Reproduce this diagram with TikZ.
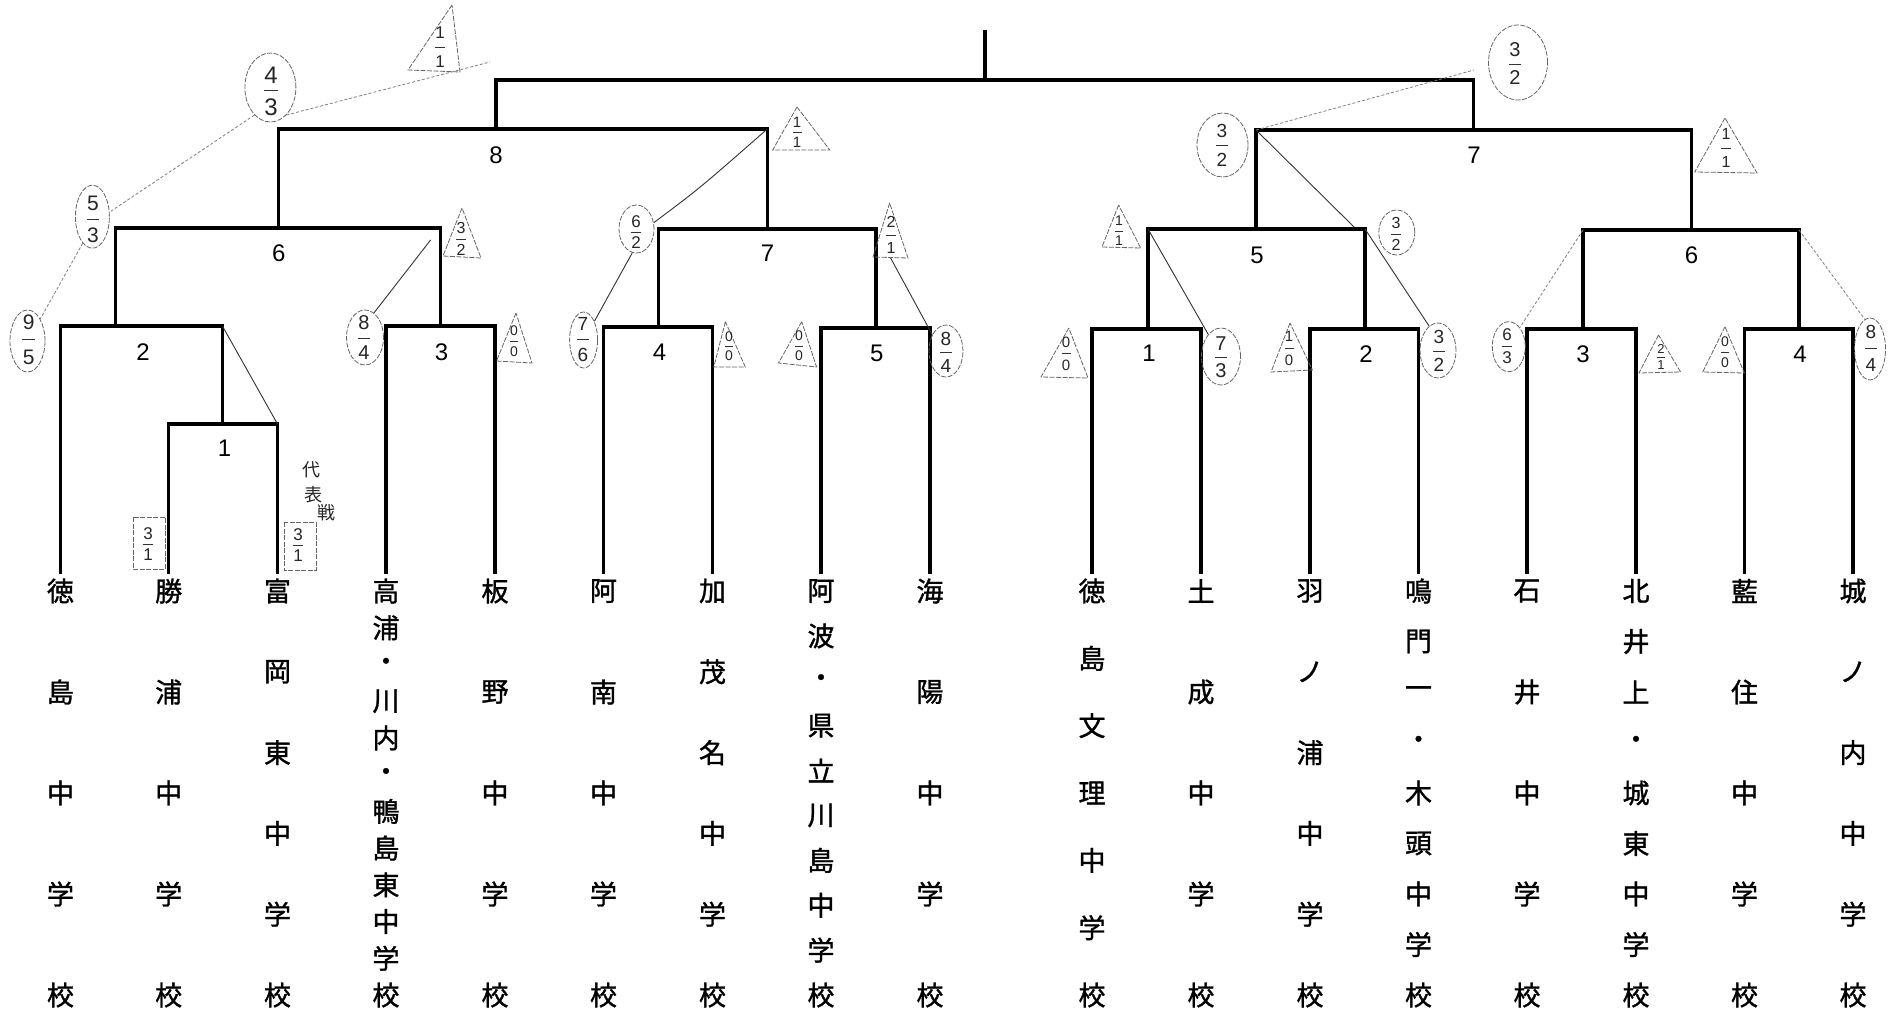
\documentclass[tikz,border=0pt]{standalone}
\usepackage{fontspec}
\setmainfont{Liberation Sans}
\newfontfamily\cjk[RawFeature={embolden=1.2}]{Noto Sans CJK JP}
\newfontfamily\cjkthin{Noto Sans CJK JP}
\usetikzlibrary{calc,shapes.geometric}
\tikzset{
 br/.style={line width=3.3pt, line cap=rect, line join=miter},
 lab/.style={font=\fontsize{24}{26}\selectfont, inner sep=0pt},
 cj/.style={font=\cjk\fontsize{27}{29}\selectfont, inner sep=0pt},
 hwcj/.style={font=\cjkthin\fontsize{18}{20}\selectfont, inner sep=0pt, text=black!85},
 hw/.style={inner sep=0pt, text=black!85},
 hwbar/.style={line width=0.8pt, black!80},
 pen/.style={line width=0.9pt, black!80},
 pencil/.style={line width=0.8pt, black!50, dash pattern=on 3pt off 2pt},
 outl/.style={line width=0.8pt, black!60, dash pattern=on 5pt off 1.5pt},
 oval/.style={ellipse, draw=black!60, line width=0.8pt, dash pattern=on 5pt off 1.5pt, inner sep=0pt},
}
\newcommand\hfr[7]{%
  \node[hw,font=\fontsize{#7}{#7}\selectfont] (#1t) at (#2,#3) {#5};
  \node[hw,font=\fontsize{#7}{#7}\selectfont] (#1b) at (#2,#4) {#6};
  \draw[hwbar] ($(#1t.south)!0.5!(#1b.north)+({-0.3*#7},0)$) -- ($(#1t.south)!0.5!(#1b.north)+({0.3*#7},0)$);
}
\newcommand\school[4]{%
  \foreach \ch [count=\i] in {#4} {\node[cj] (t#1-\i) at (#2,{591+(\i-1)*404/(#3-1)}) {\ch};}%
}
\begin{document}
\begin{tikzpicture}[x=1pt,y=-1pt]
\useasboundingbox (0,0) rectangle (1898,1014);
\fill[white] (0,0) rectangle (1898,1014);

% column feet
\foreach \n/\x in {1/60.5,2/168.7,3/277.5,4/386,5/495,6/603.5,7/712.5,8/821,9/930,
  10/1092,11/1201,12/1310,13/1418.5,14/1527,15/1636,16/1744.5,17/1853}
  {\coordinate (s\n) at (\x,572);}

% bracket corners
\coordinate (L1a) at (168.7,424); \coordinate (L1b) at (277.5,424); \coordinate (L1m) at (222.4,424);
\coordinate (L2a) at (60.5,326);  \coordinate (L2b) at (222.4,326); \coordinate (L2m) at (115.5,326);
\coordinate (L3a) at (386,326);   \coordinate (L3b) at (495,326);   \coordinate (L3m) at (440.8,326);
\coordinate (L4a) at (603.5,327); \coordinate (L4b) at (712.5,327); \coordinate (L4m) at (658.4,327);
\coordinate (L5a) at (821,328);   \coordinate (L5b) at (930,328);   \coordinate (L5m) at (876,328);
\coordinate (L6a) at (115.5,228); \coordinate (L6b) at (440.8,228); \coordinate (L6m) at (278.8,228);
\coordinate (L7a) at (658.4,229); \coordinate (L7b) at (876,229);   \coordinate (L7m) at (767.3,229);
\coordinate (L8a) at (278.8,129); \coordinate (L8b) at (767.3,129); \coordinate (L8m) at (496,129);
\coordinate (Ra) at (496,80); \coordinate (Rb) at (1473.5,80); \coordinate (Rm) at (985,80); \coordinate (Rt) at (985,32);
\coordinate (R7a) at (1256,130);  \coordinate (R7b) at (1691.5,130); \coordinate (R7m) at (1473.5,130);
\coordinate (R5a) at (1148,229);  \coordinate (R5b) at (1365,229);   \coordinate (R5m) at (1256,229);
\coordinate (R6a) at (1583,230);  \coordinate (R6b) at (1799,230);   \coordinate (R6m) at (1691.5,230);
\coordinate (R1a) at (1092,329);  \coordinate (R1b) at (1201,329);   \coordinate (R1m) at (1148,329);
\coordinate (R2a) at (1310,329);  \coordinate (R2b) at (1418.5,329); \coordinate (R2m) at (1365,329);
\coordinate (R3a) at (1527,329);  \coordinate (R3b) at (1636,329);   \coordinate (R3m) at (1583,329);
\coordinate (R4a) at (1744.5,329);\coordinate (R4b) at (1853,329);   \coordinate (R4m) at (1799,329);

% bracket lines
\draw[br] (s2)--(L1a)--(L1b)--(s3);
\draw[br] (s1)--(L2a)--(L2b)--(L1m);
\draw[br] (s4)--(L3a)--(L3b)--(s5);
\draw[br] (s6)--(L4a)--(L4b)--(s7);
\draw[br] (s8)--(L5a)--(L5b)--(s9);
\draw[br] (L2m)--(L6a)--(L6b)--(L3m);
\draw[br] (L4m)--(L7a)--(L7b)--(L5m);
\draw[br] (L6m)--(L8a)--(L8b)--(L7m);
\draw[br] (L8m)--(Ra)--(Rb)--(R7m);
\draw[br] (Rt)--(Rm);
\draw[br] (s10)--(R1a)--(R1b)--(s11);
\draw[br] (s12)--(R2a)--(R2b)--(s13);
\draw[br] (s14)--(R3a)--(R3b)--(s15);
\draw[br] (s16)--(R4a)--(R4b)--(s17);
\draw[br] (R1m)--(R5a)--(R5b)--(R2m);
\draw[br] (R3m)--(R6a)--(R6b)--(R4m);
\draw[br] (R5m)--(R7a)--(R7b)--(R6m);

% match numbers
\node[lab] (mL1) at (224.5,448) {1};
\node[lab] (mL2) at (143,352) {2};
\node[lab] (mL3) at (441.6,352) {3};
\node[lab] (mL4) at (659.6,352) {4};
\node[lab] (mL5) at (876.7,353) {5};
\node[lab] (mL6) at (278.8,253) {6};
\node[lab] (mL7) at (767.5,253) {7};
\node[lab] (mL8) at (496,155) {8};
\node[lab] (mR7) at (1474,155) {7};
\node[lab] (mR5) at (1257,255) {5};
\node[lab] (mR6) at (1691.5,255) {6};
\node[lab] (mR1) at (1149,353) {1};
\node[lab] (mR2) at (1366,354) {2};
\node[lab] (mR3) at (1583,354) {3};
\node[lab] (mR4) at (1800,354) {4};

% school names
\school{1}{60.5}{5}{徳,島,中,学,校}
\school{2}{168.7}{5}{勝,浦,中,学,校}
\school{3}{277.5}{6}{富,岡,東,中,学,校}
\school{4}{386}{12}{高,浦,・,川,内,・,鴨,島,東,中,学,校}
\school{5}{495}{5}{板,野,中,学,校}
\school{6}{603.5}{5}{阿,南,中,学,校}
\school{7}{712.5}{6}{加,茂,名,中,学,校}
\school{8}{821}{10}{阿,波,・,県,立,川,島,中,学,校}
\school{9}{930}{5}{海,陽,中,学,校}
\school{10}{1092}{7}{徳,島,文,理,中,学,校}
\school{11}{1201}{5}{土,成,中,学,校}
\school{12}{1310}{6}{羽,ノ,浦,中,学,校}
\school{13}{1418.5}{9}{鳴,門,一,・,木,頭,中,学,校}
\school{14}{1527}{5}{石,井,中,学,校}
\school{15}{1636}{9}{北,井,上,・,城,東,中,学,校}
\school{16}{1744.5}{5}{藍,住,中,学,校}
\school{17}{1853}{6}{城,ノ,内,中,学,校}

% ---- handwritten annotations: ovals ----
\node[oval, minimum width=51pt, minimum height=69pt] (E1) at (270.4,87.5) {};
\node[oval, minimum width=34pt, minimum height=63pt] (E2) at (92.4,216.7) {};
\node[oval, minimum width=35pt, minimum height=62pt] (E3) at (27.5,341) {};
\node[oval, minimum width=37pt, minimum height=55pt] (E4) at (365,337.5) {};
\node[oval, minimum width=28pt, minimum height=56pt] (E5) at (583.6,340) {};
\node[oval, minimum width=35pt, minimum height=48pt] (E6) at (636.5,229) {};
\node[oval, minimum width=34pt, minimum height=52pt] (E7) at (946,351) {};
\node[oval, minimum width=59pt, minimum height=75pt] (E8) at (1518,62.5) {};
\node[oval, minimum width=51pt, minimum height=64pt] (E9) at (1222.5,145) {};
\node[oval, minimum width=36pt, minimum height=45pt] (E10) at (1396.8,232.5) {};
\node[oval, minimum width=39pt, minimum height=57pt] (E11) at (1221,356.5) {};
\node[oval, minimum width=36pt, minimum height=55pt] (E12) at (1438,350.5) {};
\node[oval, minimum width=33pt, minimum height=50pt] (E13) at (1508.8,346.7) {};
\node[oval, minimum width=31pt, minimum height=62pt] (E14) at (1870,349) {};

\hfr{F1}{271}{75}{107}{4}{3}{24}
\hfr{F2}{93}{203}{235}{5}{3}{21}
\hfr{F3}{28.6}{322}{357}{9}{5}{21}
\hfr{F4}{364}{323}{353}{8}{4}{20}
\hfr{F5}{583}{324}{355}{7}{6}{19}
\hfr{F6}{636}{222}{243}{6}{2}{17}
\hfr{F7}{946}{339}{366}{8}{4}{19}
\hfr{F8}{1515}{50}{78}{3}{2}{20}
\hfr{F9}{1222}{131}{160}{3}{2}{19}
\hfr{F10}{1396}{223}{245}{3}{2}{16}
\hfr{F11}{1221}{344}{371}{7}{3}{20}
\hfr{F12}{1439}{337}{365}{3}{2}{19}
\hfr{F13}{1507}{335}{358}{6}{3}{17}
\hfr{F14}{1871}{332}{365}{8}{4}{19}

% ---- triangles ----
\draw[outl] (452,5) -- (408,70) -- (460,72) -- cycle;
\hfr{G1}{440}{33}{62}{1}{1}{17}
\draw[outl] (462,208) -- (443,256) -- (481,258) -- cycle;
\hfr{G2}{461}{228}{250}{3}{2}{16}
\draw[outl] (516,313) -- (496.5,361) -- (532,363) -- cycle;
\hfr{G3}{514}{331}{352}{0}{0}{14}
\draw[outl] (797,107) -- (772.7,150) -- (829.8,150) -- cycle;
\hfr{G4}{797}{122}{142}{1}{1}{15}
\draw[outl] (889.6,203) -- (873,257) -- (908,258) -- cycle;
\hfr{G5}{891}{222}{248}{2}{1}{16}
\draw[outl] (725.4,321.7) -- (713.8,367) -- (745.3,367) -- cycle;
\hfr{G6}{729}{337}{356}{0}{0}{14}
\draw[outl] (801.7,321.7) -- (778.5,363) -- (816.6,367) -- cycle;
\hfr{G7}{799}{336}{356}{0}{0}{14}
\draw[outl] (1118.6,205) -- (1102,247) -- (1140.7,248) -- cycle;
\hfr{G8}{1119}{221}{241}{1}{1}{14}
\draw[outl] (1068.8,328) -- (1041,377) -- (1088,378) -- cycle;
\hfr{G9}{1066}{342}{365}{0}{0}{15}
\draw[outl] (1290,323) -- (1271,372) -- (1312.4,370) -- cycle;
\hfr{G10}{1289}{336}{360}{1}{0}{15}
\draw[outl] (1658.5,335) -- (1639,373) -- (1680.6,372) -- cycle;
\hfr{G11}{1661}{349}{365}{2}{1}{13}
\draw[outl] (1725,326.7) -- (1702.7,372) -- (1744.3,373) -- cycle;
\hfr{G12}{1725}{342}{363}{0}{0}{14}
\draw[outl] (1725,118) -- (1694.7,172) -- (1757,173) -- cycle;
\hfr{G13}{1726}{134}{162}{1}{1}{16}

% ---- boxes (representative bout) ----
\draw[outl] (133,517) rectangle (165,569);
\hfr{B1}{148}{534}{555}{3}{1}{17}
\draw[outl] (284,522) rectangle (316,570);
\hfr{B2}{298}{535}{556}{3}{1}{17}
\node[hwcj] (d1) at (311,470) {代};
\node[hwcj] (d2) at (313,495) {表};
\node[hwcj] (d3) at (326,513) {戦};

% ---- annotation lines ----
\coordinate (c1) at (490,62);
\coordinate (c4) at (430.6,240);
\coordinate (c7) at (890.6,258);
\coordinate (c9) at (1474,70);
\coordinate (c10) at (1354,227);
\draw[pencil] (E1.-60) -- (c1);
\draw[pencil] (E1.-120) -- (E2.15);
\draw[pencil] (E2.-110) -- (E3.60);
\draw[pen] (E4.70) -- (c4);
\draw[pen] (E5.60) -- (E6.-100);
\draw[pen] (E6.20) .. controls (700,188) .. (L8b);
\draw[pen] (c7) -- (E7.130);
\draw[pen] (L2b) -- (L1b);
\draw[pencil] (R7a) -- (c9);
\draw[pen] (R7a) -- (c10);
\draw[pen] (R5a) -- (E11.120);
\draw[pen] (R5b) -- (E12.110);
\draw[pencil] (R6a) -- (E13.60);
\draw[pencil] (R6b) -- (E14.100);
\end{tikzpicture}
\end{document}
